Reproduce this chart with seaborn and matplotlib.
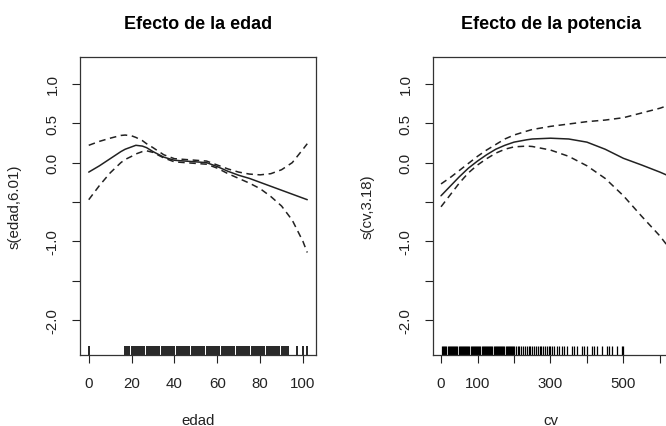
import matplotlib
matplotlib.use("Agg")
import matplotlib.pyplot as plt
import seaborn as sns

# smooth term for edad (age)
edad_x = [0, 5, 10, 15, 17, 20, 22, 25, 27, 30, 35, 40, 45, 50, 55, 60, 65, 70, 75, 80, 85, 90, 95, 100, 102]
edad_fit = [-0.12, -0.04, 0.05, 0.14, 0.17, 0.20, 0.22, 0.21, 0.19, 0.14, 0.07, 0.03, 0.02, 0.01, 0.0, -0.05, -0.11,
            -0.16, -0.20, -0.25, -0.30, -0.35, -0.40, -0.45, -0.47]
edad_upper = [0.22, 0.27, 0.31, 0.345, 0.35, 0.34, 0.32, 0.28, 0.24, 0.19, 0.10, 0.05, 0.04, 0.03, 0.02, -0.03,
              -0.08, -0.12, -0.145, -0.155, -0.14, -0.09, 0.0, 0.17, 0.24]
edad_lower = [-0.47, -0.29, -0.13, 0.0, 0.04, 0.08, 0.11, 0.14, 0.15, 0.13, 0.06, 0.01, 0.0, -0.01, -0.02, -0.07,
              -0.14, -0.20, -0.26, -0.33, -0.43, -0.55, -0.73, -1.0, -1.14]
edad_rug = [0, 17, 18, 19, 20, 21, 22, 23, 24, 25, 26, 27, 28, 29, 30, 31, 32, 33, 34, 35, 36, 37, 38, 39, 40,
            41, 42, 43, 44, 45, 46, 47, 48, 49, 50, 51, 52, 53, 54, 55, 56, 57, 58, 59, 60, 61, 62, 63, 64, 65,
            66, 67, 68, 69, 70, 71, 72, 73, 74, 75, 76, 77, 78, 79, 80, 81, 82, 83, 84, 85, 86, 87, 88, 89, 90,
            91, 92, 93, 97, 100, 102]

# smooth term for cv (horsepower)
cv_x = [0, 25, 50, 75, 100, 125, 150, 175, 200, 235, 250, 300, 350, 400, 450, 500, 550, 600, 625]
cv_fit = [-0.42, -0.30, -0.18, -0.07, 0.02, 0.10, 0.17, 0.22, 0.26, 0.29, 0.30, 0.31, 0.30, 0.26, 0.17, 0.055,
          -0.03, -0.12, -0.17]
cv_upper = [-0.27, -0.19, -0.10, -0.01, 0.08, 0.16, 0.23, 0.30, 0.35, 0.40, 0.42, 0.46, 0.49, 0.52, 0.54, 0.57,
            0.63, 0.69, 0.73]
cv_lower = [-0.56, -0.41, -0.26, -0.13, -0.03, 0.05, 0.12, 0.17, 0.20, 0.21, 0.205, 0.16, 0.08, -0.04, -0.20,
            -0.42, -0.68, -0.93, -1.08]
cv_rug = [3, 6, 9, 12, 15, 18, 21, 24, 27, 30, 33, 36, 39, 42, 45, 48, 51, 54, 57, 60, 63, 66, 69, 72, 75, 78,
          81, 84, 87, 90, 93, 96, 99, 102, 105, 108, 111, 114, 117, 120, 123, 126, 129, 132, 135, 138, 141, 144,
          147, 150, 153, 156, 159, 162, 165, 168, 171, 174, 177, 180, 183, 186, 189, 192, 195, 198, 201, 205,
          210, 215, 220, 225, 230, 235, 240, 245, 250, 255, 260, 265, 270, 275, 280, 285, 290, 295, 300, 303,
          310, 317, 324, 331, 338, 345, 358, 365, 372, 386, 393, 400, 413, 420, 427, 441, 454, 461, 468, 482,
          496, 500]

yticks = [-2.0, -1.5, -1.0, -0.5, 0.0, 0.5, 1.0]
ytick_labels = ["-2.0", "", "-1.0", "", "0.0", "0.5", "1.0"]
edad_ticks = [0, 20, 40, 60, 80, 100]
cv_ticks = [0, 100, 200, 300, 400, 500, 600]
cv_tick_labels = ["0", "100", "", "300", "", "500", ""]

sns.set_style("ticks")
plt.rcParams["font.family"] = ["Liberation Sans", "DejaVu Sans"]
ink = "#222222"

fig = plt.figure(figsize=(6.66, 4.27), dpi=100)
ax1 = fig.add_axes([80 / 666, 71 / 427, 236 / 666, 298 / 427])
ax2 = fig.add_axes([433 / 666, 71 / 427, 236 / 666, 298 / 427])

panels = [
    (ax1, edad_x, edad_fit, edad_upper, edad_lower, edad_rug, 1.2, "Efecto de la edad", "edad", "s(edad,6.01)",
     (-4.08, 106.08), edad_ticks, [str(t) for t in edad_ticks]),
    (ax2, cv_x, cv_fit, cv_upper, cv_lower, cv_rug, 0.9, "Efecto de la potencia", "cv", "s(cv,3.18)",
     (-22, 625), cv_ticks, cv_tick_labels),
]

for ax, x, fit, up, lo, rug, rug_lw, title, xlab, ylab, xlim, xt, xtl in panels:
    sns.lineplot(x=x, y=fit, ax=ax, color=ink, lw=1.1)
    sns.lineplot(x=x, y=up, ax=ax, color=ink, lw=1.1)
    ax.lines[-1].set_dashes((4.3, 3.0))
    sns.lineplot(x=x, y=lo, ax=ax, color=ink, lw=1.1)
    ax.lines[-1].set_dashes((4.3, 3.0))
    sns.rugplot(x=rug, ax=ax, height=0.03, color="black", linewidth=rug_lw, expand_margins=False)

    ax.set_xlim(*xlim)
    ax.set_ylim(-2.44, 1.34)
    ax.set_xticks(xt)
    ax.set_xticklabels(xtl)
    ax.set_yticks(yticks)
    ax.set_yticklabels(ytick_labels, rotation=90, va="center")
    ax.tick_params(axis="both", direction="out", length=5.8, width=0.8, colors=ink, labelsize=10.8)
    ax.tick_params(axis="x", pad=9.5)
    ax.tick_params(axis="y", pad=9.0)
    for s in ax.spines.values():
        s.set_visible(True)
        s.set_color("#333333")
        s.set_linewidth(0.9)

    ax.set_title(title, fontsize=13, fontweight="bold", pad=21, color="black")
    ax.set_xlabel(xlab, fontsize=10.8, color=ink, va="baseline")
    ax.set_ylabel(ylab, fontsize=10.8, color=ink)
    ax.xaxis.set_label_coords(0.5, -0.232)
    ax.yaxis.set_label_coords(-0.246, 0.5)

fig.savefig("out.png", dpi=100)
